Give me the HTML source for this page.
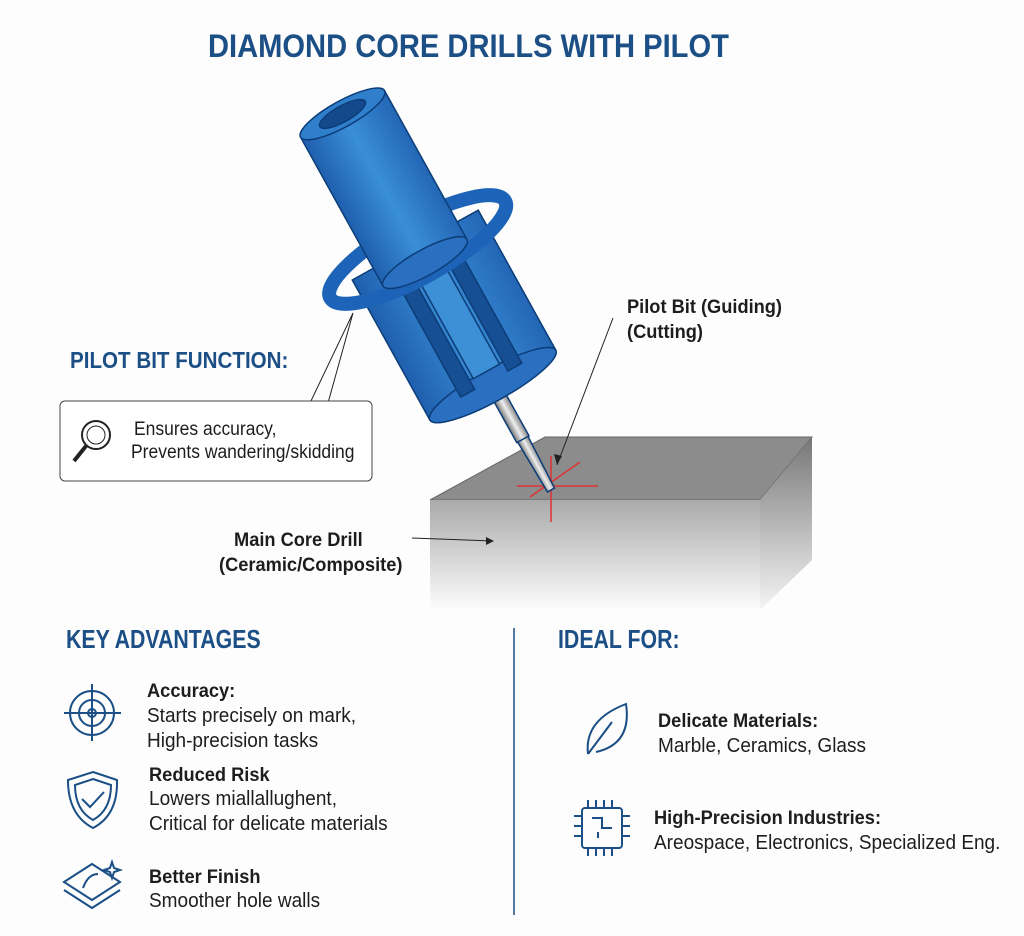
<!DOCTYPE html>
<html><head><meta charset="utf-8"><style>
body{margin:0;width:1024px;height:936px;background:#fdfdfd;font-family:"Liberation Sans",sans-serif;color:#1d1d1d;position:relative;overflow:hidden}
.a{position:absolute;white-space:nowrap;transform-origin:0 0;transform:scaleX(0.92)}
.h{color:#1b4f85;font-weight:bold}
.t{font-size:19px;line-height:25px}
.l{font-size:20px;line-height:25px;transform:scaleX(0.95)}
.b{font-weight:bold}
.bl{transform:scaleX(0.96)}
</style></head><body>
<svg width="1024" height="936" style="position:absolute;left:0;top:0">
<defs>
<linearGradient id="fr" x1="0" y1="0" x2="0" y2="1"><stop offset="0" stop-color="#aaa"/><stop offset="1" stop-color="#fdfdfd"/></linearGradient>
<linearGradient id="sd" x1="0" y1="0" x2="0" y2="1"><stop offset="0" stop-color="#777"/><stop offset="1" stop-color="#f5f5f5"/></linearGradient>
<linearGradient id="cy" x1="0" y1="0" x2="1" y2="0"><stop offset="0" stop-color="#1f5fae"/><stop offset=".5" stop-color="#3a8fd8"/><stop offset="1" stop-color="#2366b5"/></linearGradient>
<linearGradient id="st" x1="0" y1="0" x2="1" y2="0"><stop offset="0" stop-color="#777"/><stop offset=".5" stop-color="#eee"/><stop offset="1" stop-color="#888"/></linearGradient>
</defs>
<polygon points="430,500 545,437 812,437 760,500" fill="#8c8c8c" stroke="#666"/>
<polygon points="430,500 760,500 760,610 430,610" fill="url(#fr)"/>
<polygon points="760,500 812,437 812,560 760,610" fill="url(#sd)"/>
<line x1="517" y1="486" x2="598" y2="486" stroke="#d33" stroke-width="1.5"/>
<line x1="551" y1="456" x2="551" y2="522" stroke="#d33" stroke-width="1.5"/>
<line x1="530" y1="497" x2="580" y2="462" stroke="#d33" stroke-width="1.5"/>
<g transform="translate(551,490) rotate(-29)" stroke="#0c3d78" stroke-width="1.5">
<polygon points="-4,0 4,0 6,-60 -6,-60" fill="url(#st)"/>
<rect x="-7" y="-120" width="14" height="62" fill="url(#st)"/>
<rect x="-72" y="-280" width="144" height="160" fill="url(#cy)"/>
<ellipse cx="0" cy="-120" rx="72" ry="16" fill="#2a6fc0"/>
<rect x="-34" y="-255" width="16" height="130" fill="#164f94"/>
<rect x="20" y="-255" width="16" height="130" fill="#164f94"/>
<rect x="-14" y="-255" width="30" height="120" fill="#3d8fd6"/>
<ellipse cx="0" cy="-275" rx="100" ry="28" fill="none" stroke="#1d64b8" stroke-width="14"/>
<rect x="-48" y="-430" width="96" height="170" fill="url(#cy)"/>
<ellipse cx="0" cy="-260" rx="48" ry="13" fill="#2a6fc0"/>
<ellipse cx="0" cy="-430" rx="48" ry="13" fill="#2f7fcc"/>
<ellipse cx="0" cy="-430" rx="26" ry="8" fill="#124a8c"/>
</g>
<polyline points="310,403 353,313 328,403" fill="none" stroke="#222"/>
<rect x="60" y="401" width="312" height="80" rx="5" fill="#fff" stroke="#444"/>
<line x1="613" y1="318" x2="557" y2="465" stroke="#222"/>
<polygon points="557,465 554,454 562,456" fill="#222"/>
<line x1="412" y1="538" x2="493" y2="541" stroke="#222"/>
<polygon points="494,541 486,537 486,545" fill="#222"/>
<line x1="514" y1="628" x2="514" y2="915" stroke="#1b4f85" stroke-width="1.5"/>
<circle cx="96" cy="435" r="14" fill="none" stroke="#222" stroke-width="2"/>
<circle cx="96" cy="435" r="9" fill="none" stroke="#222"/>
<line x1="86" y1="446" x2="74" y2="461" stroke="#222" stroke-width="4"/>
<g fill="none" stroke="#1b4f85" stroke-width="2">
<circle cx="92" cy="713" r="22"/><circle cx="92" cy="713" r="13"/><circle cx="92" cy="713" r="4"/>
<line x1="64" y1="713" x2="121" y2="713"/><line x1="92" y1="684" x2="92" y2="741"/>
<path d="M93,772 L117,780 Q118,815 93,828 Q68,815 68,780 Z"/>
<path d="M93,779 L111,785 Q111,810 93,820 Q75,810 75,785 Z"/>
<path d="M82,799 L90,807 L104,792"/>
<path d="M64,882 L92,864 L120,882 L92,900 Z"/><path d="M64,890 L92,908 L120,890"/>
<path d="M83,888 Q88,874 98,874"/><path d="M112,862 l2,6 6,2 -6,2 -2,6 -2,-6 -6,-2 6,-2z"/>
<path d="M588,754 Q584,720 626,704 Q632,744 596,752"/><line x1="588" y1="754" x2="612" y2="722"/>
<rect x="582" y="808" width="40" height="40" rx="3"/>
<path d="M588,808v-8M596,808v-8M604,808v-8M612,808v-8M588,848v8M596,848v8M604,848v8M612,848v8M582,816h-8M582,826h-8M582,836h-8M622,816h8M622,826h8M622,836h8"/>
<path d="M592,818h10v10h10M598,838v-6"/>
</g>
</svg>
<div class="a h" style="left:208px;top:28px;font-size:32px;transform:scaleX(0.91)">DIAMOND CORE DRILLS WITH PILOT</div>
<div class="a h" style="left:70px;top:347px;font-size:23px;transform:scaleX(0.895)">PILOT BIT FUNCTION:</div>
<div class="a t" style="left:134px;top:417px">Ensures accuracy,</div>
<div class="a t" style="left:131px;top:440px">Prevents wandering/skidding</div>
<div class="a t b bl" style="left:627px;top:295px">Pilot Bit (Guiding)</div>
<div class="a t b bl" style="left:627px;top:320px">(Cutting)</div>
<div class="a t b bl" style="left:234px;top:528px">Main Core Drill</div>
<div class="a t b bl" style="left:219px;top:553px">(Ceramic/Composite)</div>
<div class="a h" style="left:66px;top:624px;font-size:26px;transform:scaleX(0.82)">KEY ADVANTAGES</div>
<div class="a h" style="left:558px;top:624px;font-size:26px;transform:scaleX(0.82)">IDEAL FOR:</div>
<div class="a t b bl" style="left:147px;top:679px">Accuracy:</div>
<div class="a l" style="left:147px;top:704px">Starts precisely on mark,</div>
<div class="a l" style="left:147px;top:729px">High-precision tasks</div>
<div class="a t b bl" style="left:149px;top:763px">Reduced Risk</div>
<div class="a l" style="left:149px;top:787px">Lowers miallallughent,</div>
<div class="a l" style="left:149px;top:812px">Critical for delicate materials</div>
<div class="a t b bl" style="left:149px;top:865px">Better Finish</div>
<div class="a l" style="left:149px;top:889px">Smoother hole walls</div>
<div class="a t b bl" style="left:658px;top:709px">Delicate Materials:</div>
<div class="a l" style="left:658px;top:734px">Marble, Ceramics, Glass</div>
<div class="a t b bl" style="left:654px;top:806px">High-Precision Industries:</div>
<div class="a l" style="left:654px;top:831px">Areospace, Electronics, Specialized Eng.</div>
</body></html>
